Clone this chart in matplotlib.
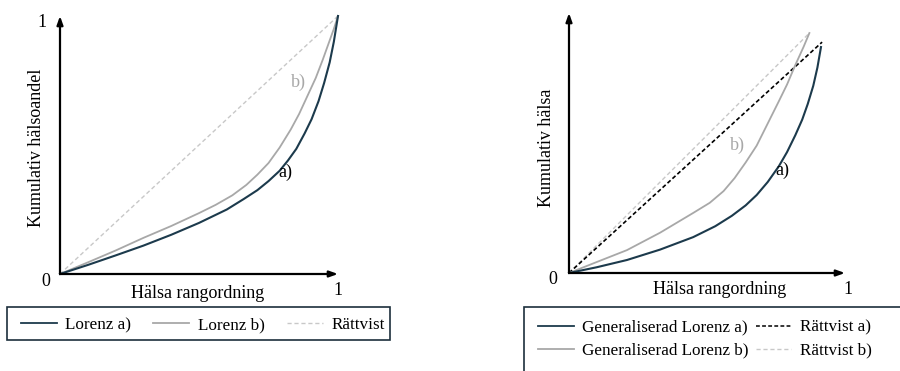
import matplotlib
matplotlib.use("Agg")
import matplotlib.pyplot as plt
from matplotlib.lines import Line2D
from matplotlib.patches import Rectangle

plt.rcParams['font.family'] = ['Liberation Serif', 'DejaVu Serif']
fs = 13      # axis text
lfs = 12.3   # legend text

dark = '#1c3a4c'
grey = '#a8a8a8'
light = '#c8c8c8'

# left panel: Lorenz curves
la_x = [0, .1, .2, .3, .4, .5, .6, .66, .71, .75, .79, .82, .85, .88, .905, .93, .95, .97, .985, 1]
la_y = [0, .035, .072, .11, .152, .198, .25, .29, .325, .36, .40, .44, .485, .545, .60, .67, .74, .82, .90, 1]
lb_x = [0, .1, .2, .3, .4, .5, .56, .62, .67, .71, .75, .79, .83, .86, .89, .92, .945, .97, .985, 1]
lb_y = [0, .045, .091, .14, .186, .236, .268, .305, .345, .385, .43, .49, .56, .62, .69, .76, .83, .905, .95, 1]
eq_x = [0, 1]
eq_y = [0, 1]

# right panel: generalised Lorenz curves
ga_x = [0, .1, .21, .33, .45, .53, .59, .64, .68, .72, .76, .79, .82, .845, .865, .885, .9, .913]
ga_y = [0, .022, .05, .09, .138, .18, .22, .26, .30, .35, .41, .465, .53, .59, .65, .72, .79, .869]
gb_x = [0, .1, .21, .33, .45, .51, .56, .60, .64, .68, .72, .76, .79, .82, .85, .871]
gb_y = [0, .042, .088, .155, .231, .27, .315, .365, .425, .49, .575, .66, .725, .8, .87, .923]
ra_x = [0, 0.917]
ra_y = [0, 0.888]
rb_x = [0, 0.871]
rb_y = [0, 0.923]

W, H = 900, 371
fig = plt.figure(figsize=(9, 3.71), dpi=100)


def px_axes(x0, y0, x1, y1):
    # x0,y0 = origin pixel (from top-left), x1,y1 = pixel of data point (1,1)
    ax = fig.add_axes([x0 / W, (H - y0) / H, (x1 - x0) / W, (y0 - y1) / H])
    ax.set_xlim(0, 1)
    ax.set_ylim(0, 1)
    ax.axis('off')
    return ax


def arrows(ax):
    kw = dict(arrowstyle='-|>,head_length=0.5,head_width=0.18', lw=1.6, color='black',
              shrinkA=0, shrinkB=0)
    ax.annotate('', xy=(1.0, 0), xytext=(0, 0), arrowprops=kw, annotation_clip=False)
    ax.annotate('', xy=(0, 1.0), xytext=(0, 0), arrowprops=kw, annotation_clip=False)


ax1 = px_axes(60, 274, 338, 16)
arrows(ax1)
ax1.plot(eq_x, eq_y, color=light, lw=1, dashes=(3, 2), clip_on=False)
ax1.plot(lb_x, lb_y, color=grey, lw=1.3, clip_on=False)
ax1.plot(la_x, la_y, color=dark, lw=1.5, clip_on=False)
ax1.text(0.856, 0.744, 'b)', color=grey, fontsize=fs, ha='center', va='center')
ax1.text(0.809, 0.395, 'a)', color='black', fontsize=fs, ha='center', va='center')
ax1.text(-0.065, 0.975, '1', fontsize=fs, ha='center', va='center')
ax1.text(-0.05, -0.03, '0', fontsize=fs, ha='center', va='center')
ax1.text(1.0, -0.065, '1', fontsize=fs, ha='center', va='center')
ax1.text(0.495, -0.075, 'Hälsa rangordning', fontsize=fs, ha='center', va='center')
ax1.text(-0.085, 0.49, 'Kumulativ hälsoandel', fontsize=fs, ha='center', va='center',
         rotation=90)

ax2 = px_axes(569, 273, 845, 13)
arrows(ax2)
ax2.plot(rb_x, rb_y, color=light, lw=1, dashes=(3, 2), clip_on=False)
ax2.plot(ra_x, ra_y, color='black', lw=1.2, dashes=(2.5, 1.5), clip_on=False)
ax2.plot(gb_x, gb_y, color=grey, lw=1.3, clip_on=False)
ax2.plot(ga_x, ga_y, color=dark, lw=1.5, clip_on=False)
ax2.text(0.612, 0.492, 'b)', color=grey, fontsize=fs, ha='center', va='center')
ax2.text(0.772, 0.396, 'a)', color='black', fontsize=fs, ha='center', va='center')
ax2.text(-0.058, -0.025, '0', fontsize=fs, ha='center', va='center')
ax2.text(1.01, -0.065, '1', fontsize=fs, ha='center', va='center')
ax2.text(0.547, -0.065, 'Hälsa rangordning', fontsize=fs, ha='center', va='center')
ax2.text(-0.083, 0.48, 'Kumulativ hälsa', fontsize=fs, ha='center', va='center',
         rotation=90)

# legend frames
fig.add_artist(Rectangle((7 / W, (H - 340) / H), 383 / W, 33 / H, transform=fig.transFigure,
                         fill=False, edgecolor='#1c2f3c', lw=1.2))
fig.add_artist(Rectangle((524 / W, -0.05), 400 / W, (H - 307) / H + 0.05,
                         transform=fig.transFigure, fill=False, edgecolor='#1c2f3c', lw=1.2,
                         clip_on=False))

h_a = Line2D([], [], color=dark, lw=1.3)
h_b = Line2D([], [], color=grey, lw=1.3)
h_e = Line2D([], [], color=light, lw=1, dashes=(3, 2))
fig.legend([h_a, h_b, h_e], ['Lorenz a)', 'Lorenz b)', 'Rättvist'], ncol=3, frameon=False,
           loc='center left', bbox_to_anchor=(14 / W, (H - 325) / H), fontsize=lfs,
           handlelength=2.1, handletextpad=0.5, columnspacing=1.3, borderaxespad=0)

h_ra = Line2D([], [], color='black', lw=1.1, dashes=(2.5, 1.5))
h_rb = Line2D([], [], color=light, lw=1, dashes=(3, 2))
fig.legend([h_a, h_b, h_ra, h_rb],
           ['Generaliserad Lorenz a)', 'Generaliserad Lorenz b)', 'Rättvist a)', 'Rättvist b)'],
           ncol=2, frameon=False, loc='upper left', bbox_to_anchor=(531 / W, (H - 313) / H),
           fontsize=lfs, handlelength=2.1, handletextpad=0.5, columnspacing=0.4,
           labelspacing=0.4, borderaxespad=0)

fig.savefig('out.png', dpi=100)
